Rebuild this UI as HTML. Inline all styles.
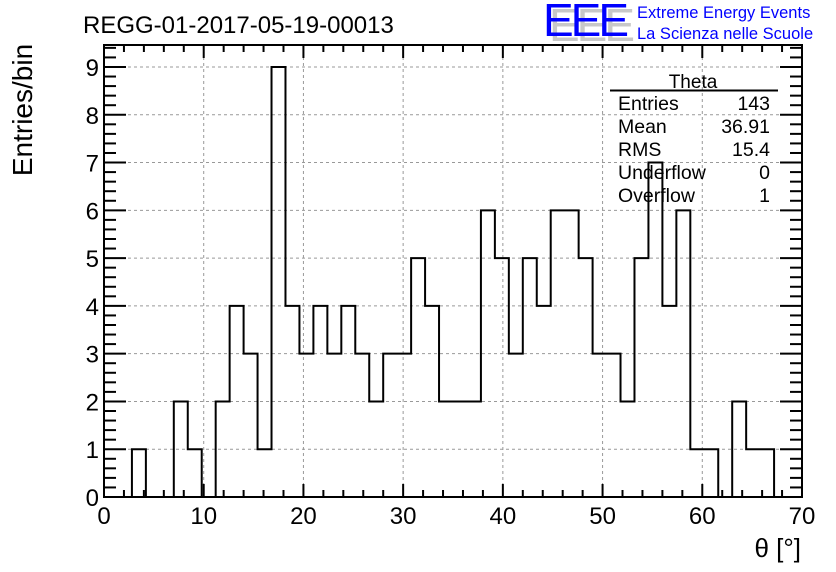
<!DOCTYPE html>
<html><head><meta charset="utf-8"><style>
body{margin:0;background:#fff}
svg{display:block;font-family:"Liberation Sans",sans-serif}
</style></head><body>
<svg id="c" width="836" height="572" viewBox="0 0 836 572">
<rect x="0" y="0" width="836" height="572" fill="#fff"/>
<text x="83" y="33" font-size="24">REGG-01-2017-05-19-00013</text>
<g>
<text x="549" y="41" font-size="46" fill="#c8c8c8" letter-spacing="-3">EEE</text>
<text x="543" y="36" font-size="46" fill="#0000ff" letter-spacing="-3">EEE</text>
<text x="637" y="18" font-size="16.5" fill="#0000ff">Extreme Energy Events</text>
<text x="637" y="39" font-size="16.5" fill="#0000ff">La Scienza nelle Scuole</text>
</g>
<g id="grid"></g>
<g id="hist"></g>
<g id="axes"></g>
<text x="32" y="110" font-size="28" transform="rotate(-90 32 110)" text-anchor="middle">Entries/bin</text>
<text x="801" y="557" font-size="26" text-anchor="end">θ [°]</text>
<g>
<text x="693" y="88" font-size="19" text-anchor="middle">Theta</text>
<line x1="610" y1="90.5" x2="778" y2="90.5" stroke="#000" stroke-width="2"/>
<g id="stats"></g>
</g>
</svg>
<script>
const counts=[0,0,1,0,0,2,1,0,2,4,3,1,9,4,3,4,3,4,3,2,3,3,5,4,2,2,2,6,5,3,5,4,6,6,5,3,3,2,5,7,4,6,1,1,0,2,1,1,0,0];
const xTicks=[0,10,20,30,40,50,60,70];
const yTicks=[0,1,2,3,4,5,6,7,8,9];
const statLabels=["Entries","Mean","RMS","Underflow","Overflow"];
const statValues=["143","36.91","15.4","0","1"];
const xMin=0,xMax=70,yMax=9.46;
const L=104,R=802,T=45,B=497;
const X=v=>L+(v-xMin)/(xMax-xMin)*(R-L);
const Y=v=>B-v/yMax*(B-T);
const NS="http://www.w3.org/2000/svg";
function mk(tag,attrs,parent){const e=document.createElementNS(NS,tag);for(const k in attrs)e.setAttribute(k,attrs[k]);parent.appendChild(e);return e;}
const grid=document.getElementById('grid'),axes=document.getElementById('axes'),hist=document.getElementById('hist'),stats=document.getElementById('stats');
xTicks.forEach(t=>{if(t>xMin&&t<xMax){const l=mk('line',{x1:X(t),x2:X(t),y1:T,y2:B,stroke:'#999','stroke-dasharray':'3,3'},grid);

}});
yTicks.forEach(t=>{if(t>0){const l=mk('line',{x1:L,x2:R,y1:Y(t),y2:Y(t),stroke:'#999','stroke-dasharray':'3,3'},grid);

}});
const bw=(xMax-xMin)/counts.length;
let d='M'+X(xMin)+','+Y(0);
counts.forEach((c,i)=>{d+=' L'+X(xMin+i*bw)+','+Y(c)+' L'+X(xMin+(i+1)*bw)+','+Y(c);});
d+=' L'+X(xMax)+','+Y(0);
const p=mk('path',{d:d,fill:'none',stroke:'#000','stroke-width':2},hist);


const f=mk('rect',{x:L,y:T,width:R-L,height:B-T,fill:'none',stroke:'#000','stroke-width':2},axes);


for(let v=xMin;v<=xMax+0.001;v+=2){const maj=Math.abs(v%10)<0.001;const h=maj?13:7;
const a=mk('line',{x1:X(v),x2:X(v),y1:B,y2:B-h,stroke:'#000','stroke-width':2},axes);


const b=mk('line',{x1:X(v),x2:X(v),y1:T,y2:T+h,stroke:'#000','stroke-width':2},axes);

}
xTicks.forEach(t=>{const e=mk('text',{x:X(t),y:524,'font-size':24,'text-anchor':'middle'},axes);e.textContent=t;

});
for(let v=0;v<=yMax;v+=0.2){const maj=Math.abs(v-Math.round(v))<0.01;const w=maj?22:12;
const a=mk('line',{x1:L,x2:L+w,y1:Y(v),y2:Y(v),stroke:'#000','stroke-width':2},axes);


const b=mk('line',{x1:R,x2:R-w,y1:Y(v),y2:Y(v),stroke:'#000','stroke-width':2},axes);

}
yTicks.forEach(t=>{const e=mk('text',{x:99,y:Y(t)+9,'font-size':24,'text-anchor':'end'},axes);e.textContent=t;

});
statLabels.forEach((s,i)=>{const y=110+i*23;
const a=mk('text',{x:618,y:y,'font-size':19.5},stats);a.textContent=s;


const b=mk('text',{x:770,y:y,'font-size':19.5,'text-anchor':'end'},stats);b.textContent=statValues[i];

});
</script>
</body></html>
